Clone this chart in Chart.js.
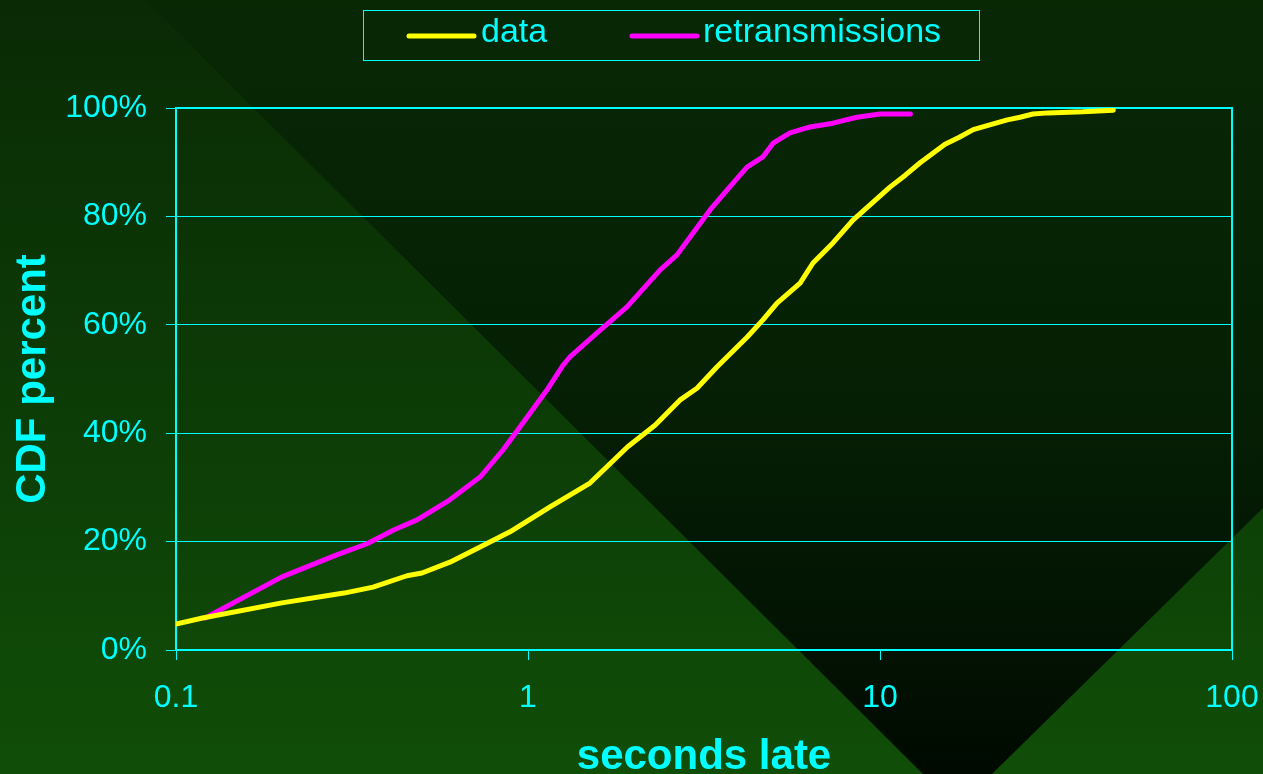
<!DOCTYPE html>
<html>
<head>
<meta charset="utf-8">
<script src="https://cdn.jsdelivr.net/npm/chart.js@4.4.1/dist/chart.umd.min.js"></script>
<style>
  html, body { margin: 0; padding: 0; background: #0b3005; overflow: hidden; }
  #wrap { width: 1263px; height: 774px; position: relative; }
</style>
</head>
<body>
<div id="wrap"><canvas id="grafico" width="1263" height="774"></canvas></div>
<script>
// seconds late (x) and CDF percent (y)
const dataSecs = [0.1, 0.119, 0.2, 0.3, 0.363, 0.453, 0.5, 0.6, 0.731, 0.889, 1.155, 1.5, 1.92, 2.3, 2.7, 3.02, 3.44, 4.19, 4.65, 5.1, 5.93, 6.45, 7.35, 8.38, 10.67, 11.8, 13.0, 15.3, 16.8, 18.4, 20.5, 23.0, 25.0, 27.2, 30.0, 37.7, 46];
const dataPct  = [4.8, 5.9, 8.7, 10.5, 11.6, 13.7, 14.2, 16.2, 19.0, 21.8, 26.4, 30.8, 37.5, 41.5, 46.1, 48.3, 52.2, 57.7, 60.9, 64.0, 67.7, 71.4, 75.1, 79.3, 85.4, 87.6, 89.9, 93.3, 94.6, 96.0, 96.9, 97.8, 98.3, 98.9, 99.1, 99.3, 99.6];

const retransSecs = [0.121, 0.2, 0.285, 0.349, 0.414, 0.484, 0.6, 0.731, 0.849, 0.98, 1.133, 1.25, 1.316, 1.571, 1.911, 2.371, 2.65, 2.94, 3.29, 3.68, 4.19, 4.65, 4.97, 5.55, 6.33, 7.35, 8.6, 10.0, 12.2];
const retransPct  = [5.9, 13.5, 17.5, 19.6, 22.1, 24.0, 27.7, 31.9, 36.9, 42.4, 48.0, 52.3, 54.1, 58.5, 63.3, 70.1, 72.9, 76.9, 81.2, 84.9, 89.1, 91.0, 93.5, 95.4, 96.5, 97.2, 98.3, 98.9, 98.9];

const seriesNames = ["data", "retransmissions"];
const xTicks = [0.1, 1, 10, 100];
const yTicks = [0, 20, 40, 60, 80, 100];

const cyan = "#00ffff";
const fuente = "'Liberation Sans', Arial, sans-serif";

function puntos(xs, ys) {
    return xs.map((x, i) => ({ x: x, y: ys[i] }));
}

// fondo verde con el triangulo oscuro
const fondo = {
    id: "fondo",
    beforeDraw(chart) {
        const ctx = chart.ctx;
        const w = chart.width, h = chart.height;
        ctx.save();
        let g = ctx.createLinearGradient(0, 0, 0, h);
        g.addColorStop(0, "#0a2a05");
        g.addColorStop(0.5, "#0c3b06");
        g.addColorStop(1, "#104e08");
        ctx.fillStyle = g;
        ctx.fillRect(0, 0, w, h);

        g = ctx.createLinearGradient(0, 0, 0, h);
        g.addColorStop(0, "#082804");
        g.addColorStop(0.5, "#052004");
        g.addColorStop(0.8, "#031403");
        g.addColorStop(1, "#000a00");
        ctx.fillStyle = g;
        ctx.beginPath();
        ctx.moveTo(145, 0);
        ctx.lineTo(w, 0);
        ctx.lineTo(w, 508);
        ctx.lineTo(992, h);
        ctx.lineTo(923, h);
        ctx.closePath();
        ctx.fill();
        ctx.restore();
    }
};

// marco del area de graficos
const marco = {
    id: "marco",
    beforeDatasetsDraw(chart) {
        const { ctx, chartArea: a } = chart;
        ctx.save();
        ctx.strokeStyle = cyan;
        ctx.lineWidth = 2;
        ctx.strokeRect(a.left, a.top, a.right - a.left, a.bottom - a.top);
        ctx.restore();
    }
};

// leyenda con recuadro
const leyenda = {
    id: "leyenda",
    afterDraw(chart) {
        const ctx = chart.ctx;
        ctx.save();
        ctx.strokeStyle = cyan;
        ctx.lineWidth = 1;
        ctx.strokeRect(363.5, 10.5, 616, 50);
        const items = [
            { x1: 409, x2: 474, tx: 481 },
            { x1: 632, x2: 697, tx: 703 }
        ];
        ctx.font = "34px " + fuente;
        ctx.textBaseline = "middle";
        ctx.textAlign = "left";
        chart.data.datasets.forEach((ds, i) => {
            const it = items[i];
            ctx.strokeStyle = ds.borderColor;
            ctx.lineWidth = 5;
            ctx.lineCap = "round";
            ctx.beginPath();
            ctx.moveTo(it.x1, 36);
            ctx.lineTo(it.x2, 36);
            ctx.stroke();
            ctx.fillStyle = cyan;
            ctx.fillText(ds.label, it.tx, 33);
        });
        ctx.restore();
    }
};

const ctx = document.getElementById("grafico").getContext("2d");
new Chart(ctx, {
    type: "line",
    data: {
        datasets: [
            {
                label: seriesNames[0],
                data: puntos(dataSecs, dataPct),
                borderColor: "#ffff00",
                borderWidth: 5,
                pointRadius: 0,
                tension: 0,
                borderCapStyle: "round",
                borderJoinStyle: "round"
            },
            {
                label: seriesNames[1],
                data: puntos(retransSecs, retransPct),
                borderColor: "#ff00ff",
                borderWidth: 5,
                pointRadius: 0,
                tension: 0,
                borderCapStyle: "round",
                borderJoinStyle: "round"
            }
        ]
    },
    options: {
        responsive: false,
        animation: false,
        events: [],
        layout: { padding: { top: 108, right: 31, left: 0, bottom: 0 } },
        plugins: {
            legend: { display: false },
            tooltip: { enabled: false }
        },
        scales: {
            x: {
                type: "logarithmic",
                min: 0.1,
                max: 100,
                afterBuildTicks: axis => { axis.ticks = xTicks.map(v => ({ value: v })); },
                afterFit: axis => {
                    axis.height = 124;
                    axis.paddingLeft = 0;
                    axis.paddingRight = 0;
                },
                ticks: {
                    color: cyan,
                    padding: 19,
                    maxRotation: 0,
                    autoSkip: false,
                    font: { family: fuente, size: 32 },
                    callback: v => String(v)
                },
                grid: { drawOnChartArea: false, drawTicks: true, tickLength: 10, color: cyan, lineWidth: 1 },
                border: { display: false },
                title: {
                    display: true,
                    text: "seconds late",
                    color: cyan,
                    padding: { top: 0, bottom: 0 },
                    font: { family: fuente, size: 42, weight: "bold", lineHeight: 0.8 }
                }
            },
            y: {
                min: 0,
                max: 100,
                afterBuildTicks: axis => { axis.ticks = yTicks.map(v => ({ value: v })); },
                afterFit: axis => { axis.width = 176; },
                ticks: {
                    color: cyan,
                    padding: 19,
                    font: { family: fuente, size: 32 },
                    callback: v => v + "%"
                },
                grid: { color: cyan, lineWidth: 1, tickLength: 10 },
                border: { display: false },
                title: {
                    display: true,
                    text: "CDF percent",
                    color: cyan,
                    padding: { top: 8, bottom: 0 },
                    font: { family: fuente, size: 42, weight: "bold" }
                }
            }
        }
    },
    plugins: [fondo, marco, leyenda]
});
</script>
</body>
</html>
